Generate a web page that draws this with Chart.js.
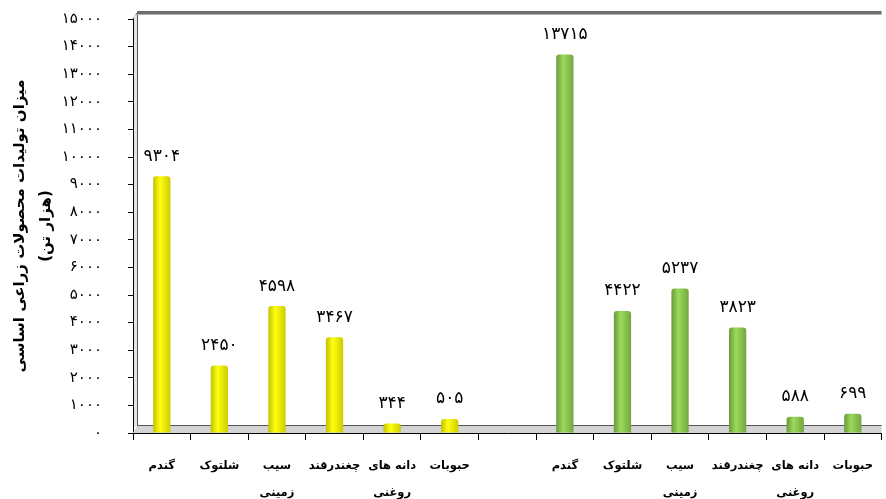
<!DOCTYPE html>
<html>
<head>
<meta charset="utf-8">
<script src="https://cdn.jsdelivr.net/npm/chart.js@4"></script>
<style>
  html, body { margin: 0; padding: 0; background: #fff; }
  #wrap { width: 886px; height: 499px; }
</style>
</head>
<body>
<div id="wrap"><canvas id="chart"></canvas></div>
<script>
// categories: two groups of crops with an empty slot between them
const categories = [
  'گندم', 'شلتوک', ['سیب', 'زمینی'], 'چغندرقند', ['دانه های', 'روغنی'], 'حبوبات',
  '',
  'گندم', 'شلتوک', ['سیب', 'زمینی'], 'چغندرقند', ['دانه های', 'روغنی'], 'حبوبات'
];
const yellowValues = [9304, 2450, 4598, 3467, 344, 505, null, null, null, null, null, null, null];
const greenValues = [null, null, null, null, null, null, null, 13715, 4422, 5237, 3823, 588, 699];
const yTitle = ['میزان تولیدات محصولات زراعی اساسی', '(هزار تن)'];
const yMax = 15000;
const yStep = 1000;

const BAR_PCT = 0.3;
const FONT = '"DejaVu Sans", sans-serif';

function toPersian(n) {
  return String(n).replace(/\d/g, d => '۰۱۲۳۴۵۶۷۸۹'[d]);
}

// horizontal gradient so bars look like cylinders
function cylinder(stops) {
  return function (ctx) {
    const chart = ctx.chart;
    const x = chart.scales.x;
    if (!x || !chart.chartArea) return stops[1];
    const c = x.getPixelForValue(ctx.dataIndex);
    const w = (x.width / categories.length) * BAR_PCT;
    const g = chart.ctx.createLinearGradient(c - w / 2, 0, c + w / 2, 0);
    g.addColorStop(0, stops[0]);
    g.addColorStop(0.4, stops[1]);
    g.addColorStop(1, stops[2]);
    return g;
  };
}

// the thin floor, wall and top edge of the 3d box
const boxPlugin = {
  id: 'box',
  beforeDatasetsDraw(chart) {
    const { ctx, chartArea: a } = chart;
    ctx.save();
    ctx.fillStyle = '#d4d4d4';
    ctx.beginPath();
    ctx.moveTo(a.left, a.bottom);
    ctx.lineTo(a.right, a.bottom);
    ctx.lineTo(a.right, a.bottom - 7);
    ctx.lineTo(a.left + 4, a.bottom - 7);
    ctx.closePath();
    ctx.fill();
    ctx.strokeStyle = '#555';
    ctx.lineWidth = 1;
    ctx.beginPath();
    ctx.moveTo(a.left + 4, a.bottom - 7.5);
    ctx.lineTo(a.right, a.bottom - 7.5);
    ctx.moveTo(a.left + 4.5, a.bottom - 7);
    ctx.lineTo(a.left + 4.5, a.top - 6);
    ctx.moveTo(a.left, a.top);
    ctx.lineTo(a.left + 4, a.top - 6);
    ctx.stroke();
    ctx.fillStyle = '#e4e4e4';
    ctx.fillRect(a.left + 1, a.top - 4, 3, a.bottom - a.top - 2);
    ctx.fillStyle = '#6f6f6f';
    ctx.fillRect(a.left + 4, a.top - 8, a.right - a.left - 4, 3);
    ctx.fillStyle = '#b0b0b0';
    ctx.fillRect(a.left + 4, a.top - 5, a.right - a.left - 4, 1);
    ctx.restore();
  }
};

const valueLabels = {
  id: 'valueLabels',
  afterDatasetsDraw(chart) {
    const ctx = chart.ctx;
    ctx.save();
    ctx.font = '17px ' + FONT;
    ctx.fillStyle = '#000';
    ctx.textAlign = 'center';
    ctx.textBaseline = 'middle';
    chart.data.datasets.forEach((ds, i) => {
      chart.getDatasetMeta(i).data.forEach((bar, j) => {
        const v = ds.data[j];
        if (v == null) return;
        ctx.fillText(toPersian(v), bar.x, bar.y - 20);
      });
    });
    ctx.restore();
  }
};

new Chart(document.getElementById('chart'), {
  type: 'bar',
  data: {
    labels: categories,
    datasets: [
      {
        label: 'زرد',
        data: yellowValues,
        backgroundColor: cylinder(['#c2c200', '#ffff10', '#cccc00'])
      },
      {
        label: 'سبز',
        data: greenValues,
        backgroundColor: cylinder(['#6a9a38', '#9ada5c', '#74a640'])
      }
    ]
  },
  options: {
    responsive: true,
    maintainAspectRatio: false,
    animation: false,
    layout: { padding: { top: 19, right: 0, left: 0, bottom: 0 } },
    datasets: {
      bar: {
        grouped: false,
        barPercentage: BAR_PCT,
        categoryPercentage: 1,
        borderRadius: 3,
        borderSkipped: 'bottom'
      }
    },
    plugins: {
      legend: { display: false },
      tooltip: { enabled: false }
    },
    scales: {
      x: {
        grid: { display: true, drawOnChartArea: false, drawTicks: true, tickLength: 7, color: '#000', offset: true },
        border: { display: true, color: '#000', width: 1 },
        ticks: {
          color: '#000',
          padding: 13,
          maxRotation: 0,
          autoSkip: false,
          font: { family: FONT, size: 11.5, weight: 'bold', lineHeight: 2.3 }
        },
        afterFit(scale) { scale.height = 66; }
      },
      y: {
        min: 0,
        max: yMax,
        grid: { display: true, drawOnChartArea: false, drawTicks: true, tickLength: 5, color: '#000' },
        border: { display: true, color: '#000', width: 1 },
        ticks: {
          stepSize: yStep,
          color: '#000',
          padding: 26,
          font: { family: FONT, size: 15 },
          callback: v => toPersian(v)
        },
        title: {
          display: true,
          text: yTitle,
          color: '#000',
          padding: { top: 7, bottom: 0 },
          font: { family: FONT, size: 15, weight: 'bold', lineHeight: 1.75 }
        },
        afterFit(scale) {
          scale.width = 133;
          scale.paddingTop = 9;
          scale.paddingBottom = 9;
        }
      }
    }
  },
  plugins: [boxPlugin, valueLabels]
});
</script>
</body>
</html>
